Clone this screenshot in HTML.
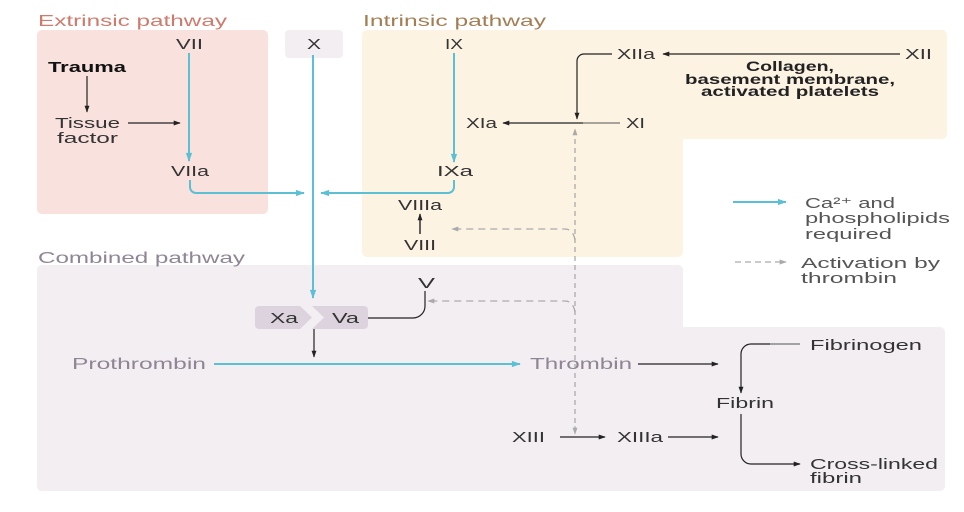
<!DOCTYPE html>
<html><head><meta charset="utf-8"><style>
html,body{margin:0;padding:0;background:#fff}
svg{display:block}
text{font-family:"Liberation Sans",sans-serif;font-size:15px;fill:#333}
</style></head><body>
<svg width="964" height="512" viewBox="0 0 964 512" xmlns="http://www.w3.org/2000/svg">
<defs>
<marker id="ab" viewBox="0 0 10 10" refX="9" refY="5" markerWidth="7" markerHeight="7" orient="auto-start-reverse" markerUnits="userSpaceOnUse"><path d="M0,1.5 L10,5 L0,8.5 z" fill="#222"/></marker>
<marker id="ac" viewBox="0 0 10 10" refX="9" refY="5" markerWidth="10" markerHeight="9" orient="auto-start-reverse" markerUnits="userSpaceOnUse"><path d="M0,1.5 L10,5 L0,8.5 z" fill="#5bc0d4"/></marker>
<marker id="ag" viewBox="0 0 10 10" refX="9" refY="5" markerWidth="7" markerHeight="7" orient="auto-start-reverse" markerUnits="userSpaceOnUse"><path d="M0,1.5 L10,5 L0,8.5 z" fill="#aaa"/></marker>
</defs>
<rect x="37" y="30" width="231" height="184" rx="5" fill="#f9e1dd"/>
<rect x="285" y="30" width="58" height="28" rx="4" fill="#f2eef2"/>
<path d="M367,30 H942 a5,5 0 0 1 5,5 V134 a5,5 0 0 1 -5,5 H683 V252 a5,5 0 0 1 -5,5 H367 a5,5 0 0 1 -5,-5 V35 a5,5 0 0 1 5,-5z" fill="#fcf3e3"/>
<path d="M42,265 H678 a5,5 0 0 1 5,5 V327 H940 a5,5 0 0 1 5,5 V486 a5,5 0 0 1 -5,5 H42 a5,5 0 0 1 -5,-5 V270 a5,5 0 0 1 5,-5z" fill="#f3eef2"/>
<text x="38" y="26" textLength="189" lengthAdjust="spacingAndGlyphs" style="fill:#cf7a6c;font-size:16px">Extrinsic pathway</text>
<text x="363" y="26" textLength="183" lengthAdjust="spacingAndGlyphs" style="fill:#a47d52;font-size:16px">Intrinsic pathway</text>
<text x="38" y="263" textLength="207" lengthAdjust="spacingAndGlyphs" style="fill:#8f8594;font-size:16px">Combined pathway</text>

<text x="176" y="49" textLength="27" lengthAdjust="spacingAndGlyphs">VII</text>
<text x="48" y="72" textLength="78" lengthAdjust="spacingAndGlyphs" style="font-weight:bold;fill:#111">Trauma</text>
<line x1="87" y1="76" x2="87" y2="112" stroke="#222" stroke-width="1.2" marker-end="url(#ab)"/>
<text x="55" y="128" textLength="65" lengthAdjust="spacingAndGlyphs">Tissue</text>
<text x="57" y="143" textLength="61" lengthAdjust="spacingAndGlyphs">factor</text>
<line x1="128" y1="123" x2="180" y2="123" stroke="#222" stroke-width="1.2" marker-end="url(#ab)"/>
<line x1="189" y1="53" x2="189" y2="161" stroke="#5bc0d4" stroke-width="2" marker-end="url(#ac)"/>
<text x="171" y="176" textLength="38" lengthAdjust="spacingAndGlyphs">VIIa</text>
<path d="M190,180 V187 a6,6 0 0 0 6,6 H304" fill="none" stroke="#5bc0d4" stroke-width="2" marker-end="url(#ac)"/>

<text x="307" y="49" textLength="14" lengthAdjust="spacingAndGlyphs">X</text>
<line x1="313" y1="55" x2="313" y2="298" stroke="#5bc0d4" stroke-width="2" marker-end="url(#ac)"/>

<text x="445" y="49" textLength="18" lengthAdjust="spacingAndGlyphs">IX</text>
<line x1="454" y1="53" x2="454" y2="162" stroke="#5bc0d4" stroke-width="2" marker-end="url(#ac)"/>
<text x="437" y="176" textLength="36" lengthAdjust="spacingAndGlyphs">IXa</text>
<path d="M454,180 V187 a6,6 0 0 1 -6,6 H321" fill="none" stroke="#5bc0d4" stroke-width="2" marker-end="url(#ac)"/>
<text x="398" y="210" textLength="44" lengthAdjust="spacingAndGlyphs">VIIIa</text>
<line x1="420" y1="234" x2="420" y2="214" stroke="#222" stroke-width="1.4" marker-end="url(#ab)"/>
<text x="404" y="250" textLength="32" lengthAdjust="spacingAndGlyphs">VIII</text>

<text x="617" y="59" textLength="38" lengthAdjust="spacingAndGlyphs">XIIa</text>
<line x1="900" y1="54" x2="663" y2="54" stroke="#222" stroke-width="1.2" marker-end="url(#ab)"/>
<text x="905" y="59" textLength="27" lengthAdjust="spacingAndGlyphs">XII</text>
<text x="746" y="71" textLength="88" lengthAdjust="spacingAndGlyphs" style="font-weight:bold;fill:#222;font-size:14px">Collagen,</text>
<text x="685" y="84" textLength="210" lengthAdjust="spacingAndGlyphs" style="font-weight:bold;fill:#222;font-size:14px">basement membrane,</text>
<text x="701" y="96" textLength="178" lengthAdjust="spacingAndGlyphs" style="font-weight:bold;fill:#222;font-size:14px">activated platelets</text>
<path d="M612,54 H584 a7,7 0 0 0 -7,7 V119" fill="none" stroke="#222" stroke-width="1.2" marker-end="url(#ab)"/>
<text x="466" y="128" textLength="31" lengthAdjust="spacingAndGlyphs">XIa</text>
<line x1="583" y1="123" x2="503" y2="123" stroke="#222" stroke-width="1.2" marker-end="url(#ab)"/>
<line x1="583" y1="123" x2="620" y2="123" stroke="#555" stroke-width="1"/>
<text x="626" y="128" textLength="19" lengthAdjust="spacingAndGlyphs">XI</text>

<line x1="575" y1="432" x2="575" y2="129" stroke="#aaa" stroke-width="1.3" stroke-dasharray="5,4" marker-end="url(#ag)"/>
<line x1="575" y1="426" x2="575" y2="434" stroke="#aaa" marker-end="url(#ag)"/>
<path d="M575,240 Q573,229 565,229 H452" fill="none" stroke="#aaa" stroke-width="1.3" stroke-dasharray="7,5" marker-end="url(#ag)"/>
<path d="M575,312 Q573,301 565,301 H428" fill="none" stroke="#aaa" stroke-width="1.3" stroke-dasharray="7,5" marker-end="url(#ag)"/>

<text x="418" y="288" textLength="17" lengthAdjust="spacingAndGlyphs">V</text>
<path d="M425,291 V306 a12,12 0 0 1 -12,12 H360" fill="none" stroke="#222" stroke-width="1.2" marker-end="url(#ab)"/>
<rect x="255" y="306" width="113" height="23" rx="4" fill="#ddd3de"/>
<path d="M300,306 L312,306 L324,317.5 L312,329 L300,329 L312,317.5z" fill="#f3eef2"/>
<text x="270" y="323" textLength="28" lengthAdjust="spacingAndGlyphs">Xa</text>
<text x="332" y="323" textLength="27" lengthAdjust="spacingAndGlyphs">Va</text>
<line x1="314" y1="329" x2="314" y2="357" stroke="#222" stroke-width="1.2" marker-end="url(#ab)"/>
<text x="72" y="369" textLength="134" lengthAdjust="spacingAndGlyphs" style="fill:#8f8594;font-size:16px">Prothrombin</text>
<line x1="214" y1="364" x2="520" y2="364" stroke="#5bc0d4" stroke-width="2" marker-end="url(#ac)"/>
<text x="530" y="369" textLength="102" lengthAdjust="spacingAndGlyphs" style="fill:#8f8594;font-size:16px">Thrombin</text>
<line x1="638" y1="364" x2="718" y2="364" stroke="#222" stroke-width="1.2" marker-end="url(#ab)"/>
<text x="810" y="350" textLength="112" lengthAdjust="spacingAndGlyphs">Fibrinogen</text>
<path d="M800,344 H751 a10,10 0 0 0 -10,10 V393" fill="none" stroke="#222" stroke-width="1.2" marker-end="url(#ab)"/>
<path d="M800,344 H770" fill="none" stroke="#999" stroke-width="1.4"/>
<text x="716" y="408" textLength="58" lengthAdjust="spacingAndGlyphs">Fibrin</text>
<path d="M741,414 V454 a10,10 0 0 0 10,10 H800" fill="none" stroke="#222" stroke-width="1.2" marker-end="url(#ab)"/>
<text x="810" y="469" textLength="128" lengthAdjust="spacingAndGlyphs">Cross-linked</text>
<text x="810" y="483" textLength="52" lengthAdjust="spacingAndGlyphs">fibrin</text>
<text x="512" y="442" textLength="33" lengthAdjust="spacingAndGlyphs">XIII</text>
<line x1="560" y1="437" x2="605" y2="437" stroke="#222" stroke-width="1.2" marker-end="url(#ab)"/>
<text x="617" y="442" textLength="46" lengthAdjust="spacingAndGlyphs">XIIIa</text>
<line x1="668" y1="437" x2="718" y2="437" stroke="#222" stroke-width="1.2" marker-end="url(#ab)"/>

<line x1="733" y1="202" x2="786" y2="202" stroke="#5bc0d4" stroke-width="2" marker-end="url(#ac)"/>
<text x="805" y="208" textLength="90" lengthAdjust="spacingAndGlyphs" style="fill:#555">Ca²⁺ and</text>
<text x="805" y="223" textLength="145" lengthAdjust="spacingAndGlyphs" style="fill:#555">phospholipids</text>
<text x="805" y="239" textLength="87" lengthAdjust="spacingAndGlyphs" style="fill:#555">required</text>
<line x1="735" y1="262" x2="786" y2="262" stroke="#aaa" stroke-width="1.3" stroke-dasharray="6,4" marker-end="url(#ag)"/>
<text x="801" y="268" textLength="139" lengthAdjust="spacingAndGlyphs" style="fill:#555">Activation by</text>
<text x="801" y="283" textLength="96" lengthAdjust="spacingAndGlyphs" style="fill:#555">thrombin</text>
</svg>
</body></html>
